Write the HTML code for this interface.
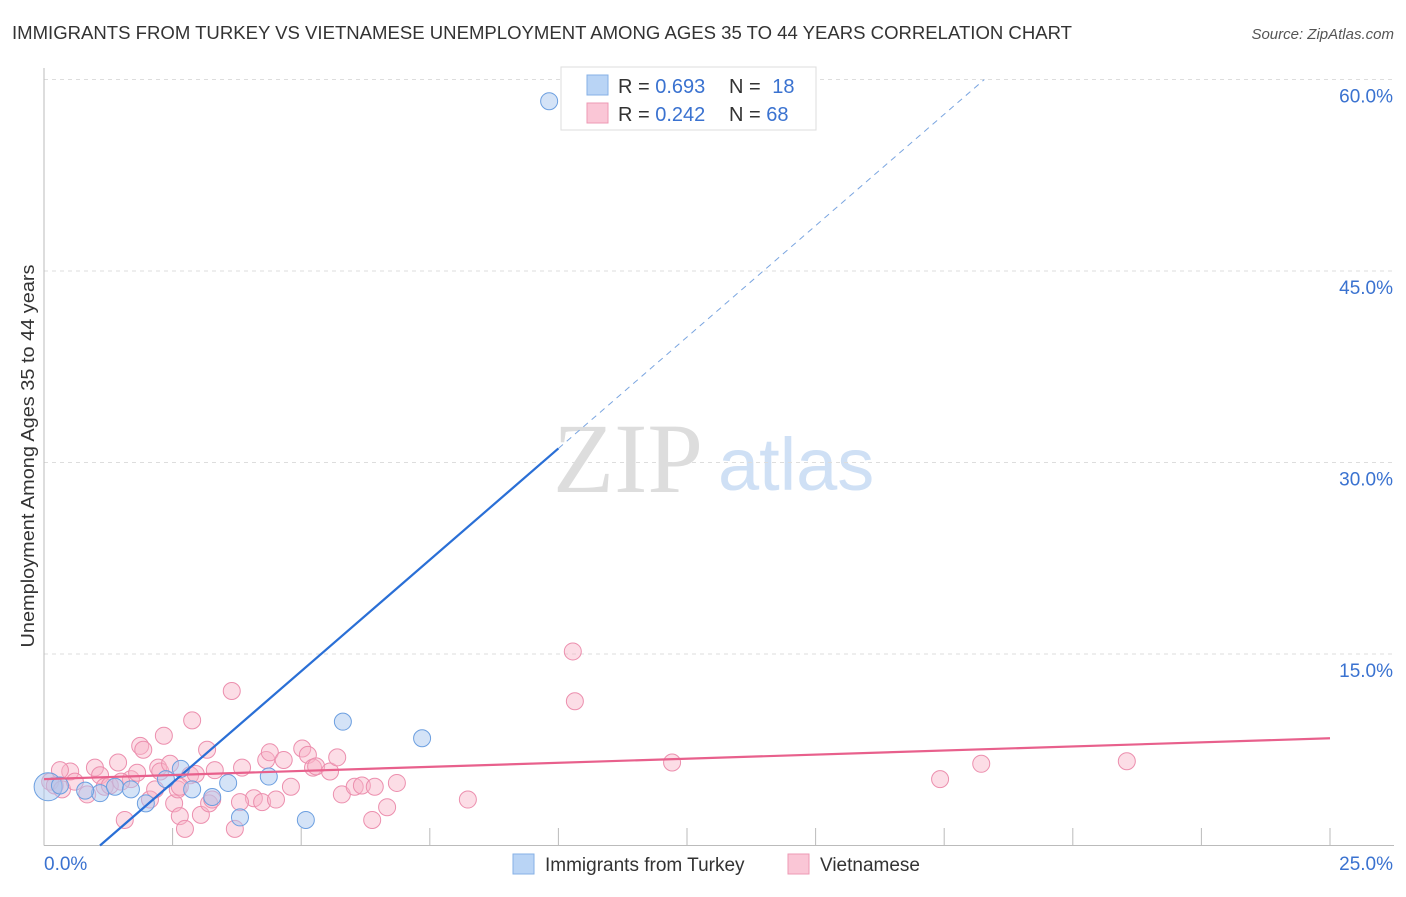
<!DOCTYPE html>
<html><head><meta charset="utf-8"><style>
body{margin:0;background:#fff;font-family:"Liberation Sans",sans-serif;}
</style></head><body>
<svg id="chart" width="1406" height="892" xmlns="http://www.w3.org/2000/svg" font-family="Liberation Sans, sans-serif">
<text x="12" y="39" font-size="18" fill="#333" textLength="1060" lengthAdjust="spacingAndGlyphs">IMMIGRANTS FROM TURKEY VS VIETNAMESE UNEMPLOYMENT AMONG AGES 35 TO 44 YEARS CORRELATION CHART</text>
<text x="1394" y="39" font-size="15" fill="#555" font-style="italic" text-anchor="end">Source: ZipAtlas.com</text>
<text transform="translate(34,456) rotate(-90)" font-size="18" fill="#333" text-anchor="middle" textLength="383" lengthAdjust="spacingAndGlyphs">Unemployment Among Ages 35 to 44 years</text>
<g><text x="553" y="492" font-size="100" fill="#ddd" font-family="Liberation Serif, serif">ZIP</text><text x="718" y="490" font-size="74" fill="#cfe0f5">atlas</text></g>
<g id="grid"></g><g id="axes"></g><g id="pts"></g><g id="lines"></g>
<g>
<rect x="561" y="67" width="255" height="63" fill="#fff" stroke="#ddd"/>
<rect x="587" y="75" width="21" height="20" fill="#b9d4f5" stroke="#86b0e6"/>
<rect x="587" y="103" width="21" height="20" fill="#fac6d6" stroke="#ee99b4"/>
<text x="618" y="93" font-size="20" fill="#333">R = <tspan fill="#3a72d0">0.693</tspan></text>
<text x="729" y="93" font-size="20" fill="#333">N = <tspan fill="#3a72d0" dx="6">18</tspan></text>
<text x="618" y="121" font-size="20" fill="#333">R = <tspan fill="#3a72d0">0.242</tspan></text>
<text x="729" y="121" font-size="20" fill="#333">N = <tspan fill="#3a72d0">68</tspan></text>
</g>
<g>
<rect x="513" y="854" width="21" height="20" fill="#b9d4f5" stroke="#86b0e6"/>
<text x="545" y="871" font-size="19" fill="#333">Immigrants from Turkey</text>
<rect x="788" y="854" width="21" height="20" fill="#fac6d6" stroke="#ee99b4"/>
<text x="820" y="871" font-size="19" fill="#333">Vietnamese</text>
</g>
</svg>
<script>
const yTicks=[15,30,45,60];
const yTickLabels=["15.0%","30.0%","45.0%","60.0%"];
const xTicks=[2.5,5,7.5,10,12.5,15,17.5,20,22.5,25];
const turkeyX=[9.82,0.08,1.09,1.38,1.69,1.98,2.37,2.66,2.88,3.27,3.58,3.81,4.37,5.09,5.81,7.35,0.31,0.8];
const turkeyY=[58.3,4.6,4.1,4.6,4.4,3.3,5.2,6.0,4.4,3.8,4.9,2.2,5.4,2.0,9.7,8.4,4.7,4.3];
const vietX=[0.12,0.21,0.35,0.51,0.6,0.84,0.99,1.09,1.18,1.44,1.57,1.69,1.81,1.87,1.93,2.06,2.16,2.22,2.26,2.33,2.45,2.53,2.6,2.64,2.74,2.84,2.88,2.95,3.05,3.17,3.21,3.27,3.32,3.65,3.71,3.85,4.08,4.24,4.32,4.39,4.51,4.66,4.8,5.02,5.13,5.23,5.29,5.56,5.7,5.79,6.04,6.18,6.38,6.43,6.67,6.86,8.24,10.28,10.32,12.21,17.42,18.22,21.05,3.81,2.64,0.31,1.28,1.5];
const vietY=[5.0,4.7,4.4,5.8,5.0,4.0,6.1,5.5,4.6,6.5,2.0,5.2,5.7,7.8,7.5,3.6,4.4,6.1,5.8,8.6,6.4,3.3,4.4,2.3,1.3,5.5,9.8,5.6,2.4,7.5,3.3,3.6,5.9,12.1,1.3,6.1,3.7,3.4,6.7,7.3,3.6,6.7,4.6,7.6,7.1,6.1,6.2,5.8,6.9,4.0,4.6,4.7,2.0,4.6,3.0,4.9,3.6,15.2,11.3,6.5,5.2,6.4,6.6,3.4,4.6,5.9,4.7,5.0];
const turkeyFit=[3.49,-3.8];
const vietFit=[0.128,5.2];
const X0=44,X1=1330,Y0=845.5,Y60=79.5;
const sx=v=>X0+v*(X1-X0)/25, sy=v=>Y0-v*(Y0-Y60)/60;
const NS="http://www.w3.org/2000/svg";
function mk(t,a,p){const e=document.createElementNS(NS,t);for(const k in a)e.setAttribute(k,a[k]);p.appendChild(e);return e;}
const grid=document.getElementById('grid'),axes=document.getElementById('axes'),pts=document.getElementById('pts'),lines=document.getElementById('lines');
yTicks.forEach((t,i)=>{
 const l=mk('line',{x1:X0,x2:1394,y1:sy(t),y2:sy(t),stroke:'#ddd','stroke-dasharray':'4,4'},grid);
 
 
 const tx=mk('text',{x:1393,y:sy(t)+23,'font-size':19,fill:'#3a72d0','text-anchor':'end'},axes);
 tx.textContent=yTickLabels[i];
 
 
});
const ya=mk('line',{x1:X0,x2:X0,y1:68,y2:Y0,stroke:'#bbb'},axes);


const xa=mk('line',{x1:X0,x2:1394,y1:Y0,y2:Y0,stroke:'#bbb'},axes);


xTicks.forEach(t=>{
 const l=mk('line',{x1:sx(t),x2:sx(t),y1:828,y2:Y0,stroke:'#bbb'},axes);
 
 
});
const xl0=mk('text',{x:44,y:870,'font-size':19,fill:'#3a72d0'},axes);xl0.textContent='0.0%';


const xl1=mk('text',{x:1393,y:870,'font-size':19,fill:'#3a72d0','text-anchor':'end'},axes);xl1.textContent='25.0%';


vietX.forEach((x,i)=>{
 const c=mk('circle',{cx:sx(x),cy:sy(vietY[i]),r:8.5,fill:'rgba(248,180,200,0.45)',stroke:'#ec8fae','stroke-width':1},pts);
 
 
});
turkeyX.forEach((x,i)=>{
 const c=mk('circle',{cx:sx(x),cy:sy(turkeyY[i]),r:i==1?14:8.5,fill:'rgba(170,200,240,0.5)',stroke:'#6c9fe0','stroke-width':1},pts);
 
 
});
const xs=(0-turkeyFit[1])/turkeyFit[0], xe=10;
const bl=mk('line',{x1:sx(xs),y1:sy(0),x2:sx(xe),y2:sy(turkeyFit[0]*xe+turkeyFit[1]),stroke:'#2a6fd6','stroke-width':2.2},lines);


const xd=(60-turkeyFit[1])/turkeyFit[0];
const bd=mk('line',{x1:sx(xe),y1:sy(turkeyFit[0]*xe+turkeyFit[1]),x2:sx(xd),y2:sy(60),stroke:'#7aa5e0','stroke-width':1,'stroke-dasharray':'6,5'},lines);


const pl=mk('line',{x1:sx(0),y1:sy(vietFit[1]),x2:sx(25),y2:sy(vietFit[0]*25+vietFit[1]),stroke:'#e8608c','stroke-width':2.2},lines);


</script>
</body></html>
